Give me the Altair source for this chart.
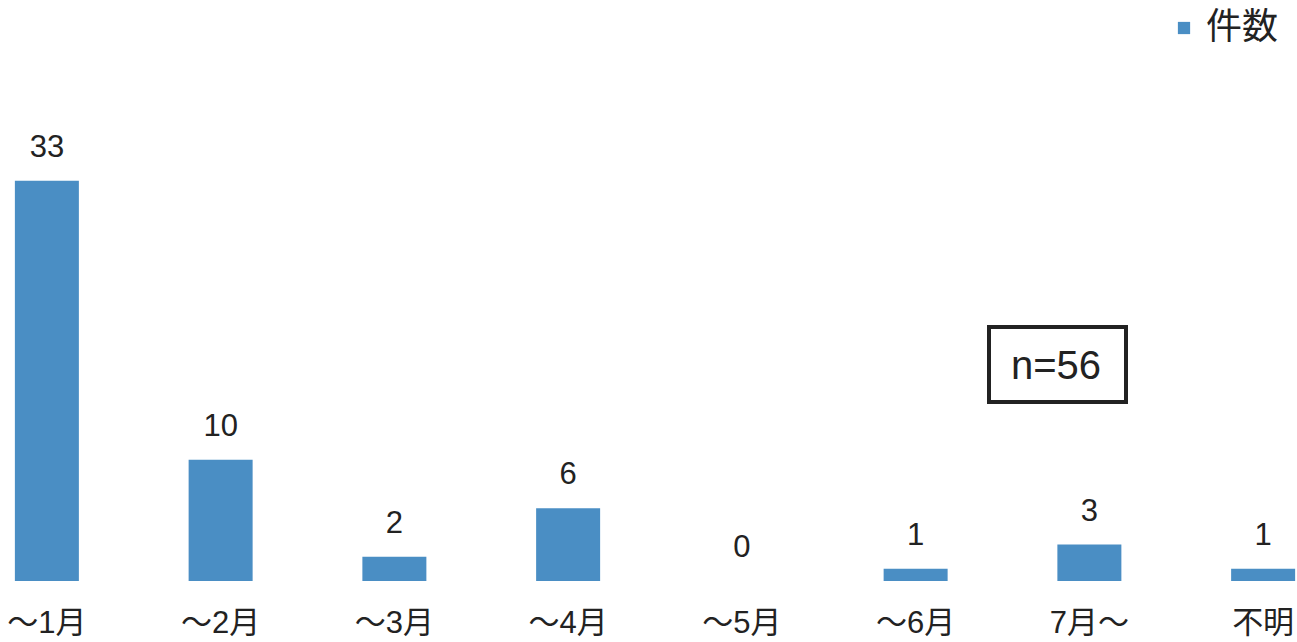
import altair as alt
import pandas as pd

categories = ["～1月", "～2月", "～3月", "～4月", "～5月", "～6月", "7月～", "不明"]
counts = [33, 10, 2, 6, 0, 1, 3, 1]
series_name = "件数"
n_label = "n=56"

df = pd.DataFrame({"cat": categories, "count": counts, "series": series_name})

FONT = "Liberation Sans, 'Noto Sans CJK JP', sans-serif"
BLUE = "#4a8ec4"

x_enc = alt.X("cat:N", sort=categories,
              scale=alt.Scale(range=[-40, 1350], paddingInner=0.63, paddingOuter=0.315),
              axis=alt.Axis(title=None, labelAngle=0, domain=False, ticks=False,
                            labelFontSize=31, labelPadding=27, labelColor="#222",
                            labelFont=FONT))
y_enc = alt.Y("count:Q", scale=alt.Scale(domain=[0, 47.9], nice=False), axis=None)

bars = alt.Chart(df).mark_bar(size=64).encode(
    x=x_enc, y=y_enc,
    color=alt.Color("series:N", scale=alt.Scale(range=[BLUE]),
                    legend=alt.Legend(title=None, orient="none", legendX=1166, legendY=10,
                                      symbolType="square", symbolSize=150,
                                      labelFontSize=36, labelFont=FONT, labelColor="#222",
                                      symbolStrokeWidth=0))
)

labels = alt.Chart(df).mark_text(fontSize=31, font=FONT, color="#222", baseline="alphabetic", dy=-24).encode(
    x=alt.X("cat:N", sort=categories), y="count:Q", text="count:Q"
)

box = alt.Chart(pd.DataFrame({"t": [n_label]})).mark_rect(fill="white", stroke="#222", strokeWidth=4).encode(
    x=alt.value(989), x2=alt.value(1126), y=alt.value(327), y2=alt.value(402)
)
box_text = alt.Chart(pd.DataFrame({"t": [n_label]})).mark_text(fontSize=40, font=FONT, color="#222",
                                                               baseline="middle", align="center").encode(
    x=alt.value(1056), y=alt.value(367), text="t:N"
)

chart = alt.layer(bars, labels, box, box_text).properties(
    width=1297, height=581,
    autosize=alt.AutoSizeParams(type="none"),
    padding={"left": 0, "top": 0, "right": 0, "bottom": 61},
    background="white"
).configure_view(stroke=None)

chart.save("out.html", embed_options={"renderer": "svg", "actions": False})
